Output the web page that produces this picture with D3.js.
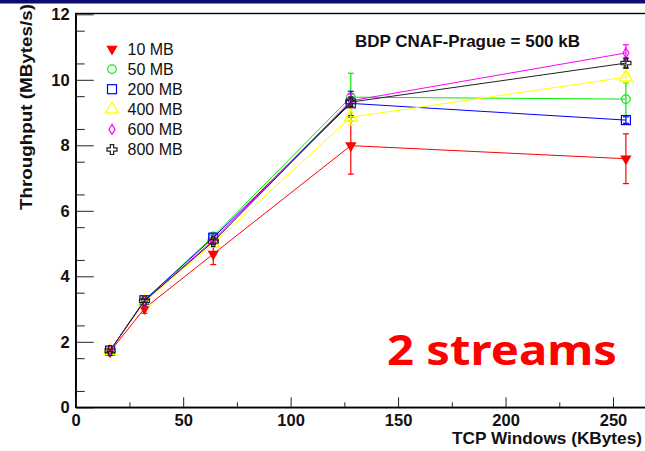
<!DOCTYPE html>
<html>
<head>
<meta charset="utf-8">
<script src="https://cdn.jsdelivr.net/npm/d3@7"></script>
<style>
  body { margin: 0; background: #fff; }
  svg { display: block; font-family: "Liberation Sans", Arial, sans-serif; }
</style>
</head>
<body>
<svg id="chart" width="645" height="451"></svg>
<script>
// TCP window sizes (KBytes)
var windows = [16, 32, 64, 128, 256];

// transfer sizes
var seriesNames = ["10 MB", "50 MB", "200 MB", "400 MB", "600 MB", "800 MB"];

// throughput (MBytes/s)
var thr10  = [1.70, 3.02, 4.68, 7.99, 7.59];
var thr50  = [1.73, 3.27, 5.22, 9.47, 9.41];
var thr200 = [1.73, 3.27, 5.18, 9.28, 8.77];
var thr400 = [1.72, 3.22, 5.00, 8.86, 10.08];
var thr600 = [1.73, 3.25, 5.10, 9.36, 10.82];
var thr800 = [1.73, 3.25, 5.06, 9.32, 10.51];

// error bar half-heights
var err10  = [0.05, 0.15, 0.32, 0.87, 0.76];
var err50  = [0.03, 0.05, 0.10, 0.73, 0.50];
var err200 = [0.03, 0.05, 0.08, 0.37, 0.10];
var err400 = [0.03, 0.05, 0.10, 0.25, 0.15];
var err600 = [0.03, 0.05, 0.08, 0.20, 0.25];
var err800 = [0.03, 0.05, 0.08, 0.15, 0.15];

var xTicks = [0, 50, 100, 150, 200, 250];
var yTicks = [0, 2, 4, 6, 8, 10, 12];

var colors = ["#ff0000", "#00ee00", "#0000ff", "#ffff00", "#ff00ff", "#202020"];
var values = [thr10, thr50, thr200, thr400, thr600, thr800];
var errors = [err10, err50, err200, err400, err600, err800];

var svg = d3.select("#chart");

// frame geometry
var frameLeft = 75.7, frameTop = 13.5, frameBottom = 407.3, frameRight = 656;

var x = d3.scaleLinear().domain([0, 270]).range([frameLeft, frameRight]);
var y = d3.scaleLinear().domain([0, 12]).range([frameBottom, frameTop + 0.8]);

// navy band at the very top
svg.append("rect").attr("x", 0).attr("y", 0).attr("width", 645).attr("height", 3.5)
  .attr("fill", "#0c0c70");

// frame
svg.append("rect")
  .attr("x", frameLeft).attr("y", frameTop)
  .attr("width", frameRight - frameLeft).attr("height", frameBottom - frameTop)
  .attr("fill", "none").attr("stroke", "#000").attr("stroke-width", 1.4);

// y axis, ticks pointing inward
svg.append("g").attr("transform", "translate(" + frameLeft + ",0)")
  .call(d3.axisLeft(y).tickValues(yTicks).tickSizeInner(-18).tickSizeOuter(0).tickPadding(6));
svg.append("g").attr("transform", "translate(" + frameLeft + ",0)")
  .call(d3.axisLeft(y).tickValues(d3.range(0.5, 12, 1)).tickSizeInner(-9).tickSizeOuter(0).tickFormat(""))
  .select(".domain").remove();

// x axis, ticks pointing up
svg.append("g").attr("transform", "translate(0," + frameBottom + ")")
  .call(d3.axisBottom(x).tickValues(xTicks).tickSizeInner(-10).tickSizeOuter(0).tickPadding(7));
svg.append("g").attr("transform", "translate(0," + frameBottom + ")")
  .call(d3.axisBottom(x).tickValues(d3.range(25, 270, 50)).tickSizeInner(-5).tickSizeOuter(0).tickFormat(""))
  .select(".domain").remove();

svg.selectAll(".domain").attr("stroke-width", 1.4);
svg.selectAll(".tick line").attr("stroke", "#222");
svg.selectAll(".tick text")
  .attr("font-family", "'Liberation Sans', Arial, sans-serif")
  .attr("font-size", 16.5).attr("font-weight", "bold").attr("fill", "#111");

// axis titles
svg.append("text")
  .attr("transform", "translate(32,210) rotate(-90)")
  .attr("font-size", 17).attr("font-weight", "bold").attr("fill", "#111")
  .attr("textLength", 206).attr("lengthAdjust", "spacingAndGlyphs")
  .text("Throughput (MBytes/s)");

svg.append("text")
  .attr("x", 452).attr("y", 444)
  .attr("font-size", 17).attr("font-weight", "bold").attr("fill", "#111")
  .attr("textLength", 190).attr("lengthAdjust", "spacingAndGlyphs")
  .text("TCP Windows (KBytes)");

// marker shapes
function marker(sel, i, cx, cy) {
  var c = colors[i];
  var g = sel.append("g").attr("transform", "translate(" + cx + "," + cy + ")");
  if (i === 0) {
    g.append("path").attr("d", d3.symbol().type(d3.symbolTriangle).size(55)())
      .attr("transform", "rotate(180)").attr("fill", c);
  } else if (i === 1) {
    g.append("circle").attr("r", 4.3).attr("fill", "none").attr("stroke", c).attr("stroke-width", 1.2);
  } else if (i === 2) {
    g.append("rect").attr("x", -4.5).attr("y", -4.5).attr("width", 9).attr("height", 9)
      .attr("fill", "none").attr("stroke", c).attr("stroke-width", 1.2);
  } else if (i === 3) {
    g.append("path").attr("d", d3.symbol().type(d3.symbolTriangle).size(70)())
      .attr("fill", "none").attr("stroke", c).attr("stroke-width", 1.3);
  } else if (i === 4) {
    g.append("path").attr("d", "M0,-5L3,0L0,5L-3,0Z")
      .attr("fill", "none").attr("stroke", c).attr("stroke-width", 1.2);
  } else {
    g.append("path").attr("d", d3.symbol().type(d3.symbolCross).size(55)())
      .attr("fill", "none").attr("stroke", c).attr("stroke-width", 1.2);
  }
}

// series
var line = d3.line().x(function(d) { return x(d[0]); }).y(function(d) { return y(d[1]); });
values.forEach(function(vals, i) {
  var pts = windows.map(function(w, j) { return [w, vals[j], errors[i][j]]; });
  var g = svg.append("g");
  g.append("path").datum(pts).attr("d", line)
    .attr("fill", "none").attr("stroke", colors[i]).attr("stroke-width", 1);
  pts.forEach(function(p) {
    var px = x(p[0]), y1 = y(p[1] + p[2]), y2 = y(p[1] - p[2]);
    g.append("line").attr("x1", px).attr("x2", px).attr("y1", y1).attr("y2", y2)
      .attr("stroke", colors[i]).attr("stroke-width", 1.2);
    [y1, y2].forEach(function(yy) {
      g.append("line").attr("x1", px - 3).attr("x2", px + 3).attr("y1", yy).attr("y2", yy)
        .attr("stroke", colors[i]).attr("stroke-width", 1.2);
    });
    marker(g, i, px, y(p[1]));
  });
});

// legend
var legend = svg.append("g");
seriesNames.forEach(function(name, i) {
  var cy = 49 + i * 20.1;
  marker(legend, i, 112, cy);
  legend.append("text").attr("x", 127.5).attr("y", cy + 5.7)
    .attr("font-size", 16).attr("fill", "#111").text(name);
});

// annotation
svg.append("text")
  .attr("x", 355).attr("y", 47)
  .attr("font-size", 17).attr("font-weight", "bold").attr("fill", "#111")
  .text("BDP CNAF-Prague = 500 kB");

svg.append("text")
  .attr("x", 387).attr("y", 365)
  .attr("font-family", "'Comic Sans MS', 'Noto Sans', sans-serif")
  .attr("font-size", 42).attr("font-weight", "bold").attr("fill", "#ff0000")
  .attr("textLength", 230).attr("lengthAdjust", "spacingAndGlyphs")
  .text("2 streams");
</script>
</body>
</html>
